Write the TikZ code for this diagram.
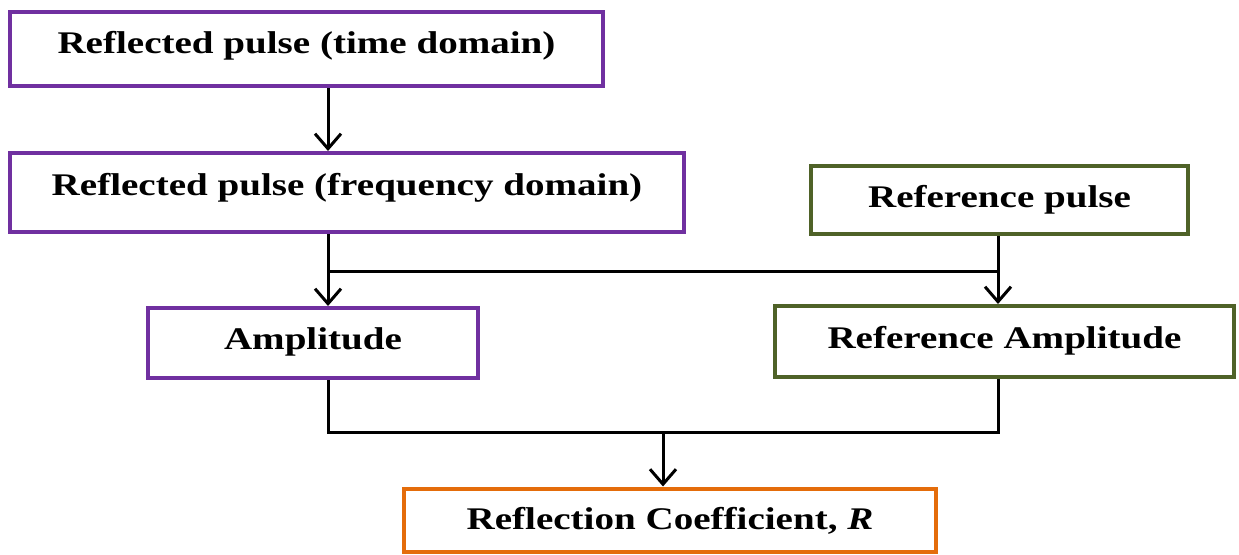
\documentclass[tikz,border=0pt]{standalone}
\usepackage{fontspec}
\setmainfont{Liberation Serif}[FakeStretch=1.24]
\usetikzlibrary{arrows.meta}
\definecolor{boxpurple}{HTML}{7030A0}
\definecolor{boxgreen}{HTML}{4F6228}
\definecolor{boxorange}{HTML}{E46C0A}
\begin{document}
\begin{tikzpicture}[x=1pt,y=-1pt,
  box/.style={draw, line width=4pt, inner sep=0pt, fill=white, text=black,
    font=\fontsize{31.5}{36}\selectfont\bfseries, text height=22pt},
  conn/.style={line width=3pt, draw=black},
  arr/.style={conn, -{Straight Barb[length=15pt,width=26pt,line width=3pt]}}]
\useasboundingbox (0,0) rectangle (1239,554);
\fill[white] (0,0) rectangle (1239,554);
\node[box, draw=boxpurple, minimum width=593pt, minimum height=74pt, text depth=13pt] (t) at (306.5,49) {Reflected pulse (time domain)};
\node[box, draw=boxpurple, minimum width=674pt, minimum height=79pt, text depth=16pt] (f) at (347,192.5) {Reflected pulse (frequency domain)};
\node[box, draw=boxgreen, minimum width=377pt, minimum height=68pt, text depth=8pt] (rp) at (999.5,200) {Reference pulse};
\node[box, draw=boxpurple, minimum width=330pt, minimum height=70pt, text depth=10pt] (amp) at (313,343) {Amplitude};
\node[box, draw=boxgreen, minimum width=459pt, minimum height=71pt, text depth=9pt] (ra) at (1004.5,341.5) {Reference Amplitude};
\node[box, draw=boxorange, minimum width=532pt, minimum height=63pt, text depth=3pt] (rc) at (670,520) {Reflection Coefficient, \textit{R}};
\coordinate (cl) at (328,0);
\coordinate (cr) at (998,0);
\coordinate (cm) at (663,0);
\coordinate (j1) at (0,271);
\coordinate (j2) at (0,432);
\draw[arr] (t.south -| cl) -- (f.north -| cl);
\draw[arr] (f.south -| cl) -- (amp.north -| cl);
\draw[arr] (rp.south -| cr) -- (ra.north -| cr);
\draw[conn] (j1 -| cl) -- (j1 -| cr);
\draw[conn] (amp.south -| cl) -- (j2 -| cl) -- (j2 -| cr) -- (ra.south -| cr);
\draw[arr] (j2 -| cm) -- (rc.north -| cm);
\end{tikzpicture}
\end{document}
